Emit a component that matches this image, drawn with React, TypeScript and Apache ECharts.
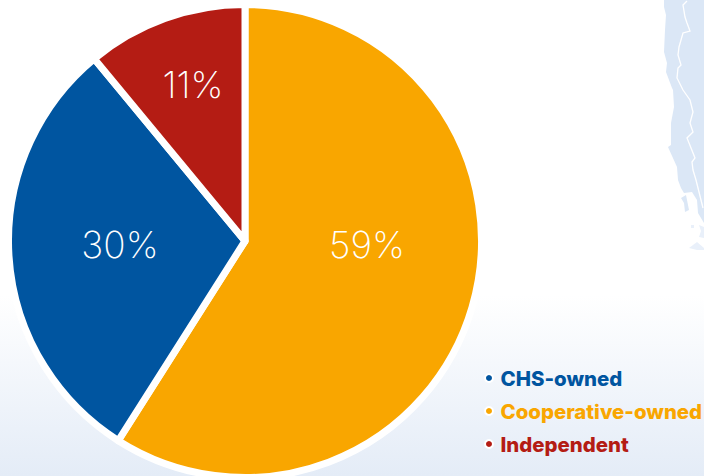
import React, { useEffect, useRef } from "react";
import * as echarts from "echarts";

const categories = ["Cooperative-owned", "CHS-owned", "Independent"];
const shares = [59, 30, 11];
const sliceColors = ["#F9A600", "#0055A0", "#B41C14"];
const legendOrder = ["CHS-owned", "Cooperative-owned", "Independent"];
const labelCenters = [
  [367, 244],
  [120, 244],
  [193, 84],
];

// Decorative coastline in the top-right corner
const landOutline = [
  [664, 0], [664, 7], [666, 15], [665, 30], [664, 52], [667, 63], [666, 72], [672, 88],
  [673, 90], [674, 107], [671, 123], [671, 145], [668, 147], [677, 167], [678, 180],
  [681, 188], [684, 193], [692, 192], [697, 200], [698, 213], [704, 223], [704, 0],
];
const peninsula = [[681, 198], [686, 195], [689, 210], [685, 212], [684, 203]];
const islands = [
  [[689, 248], [697, 242], [704, 248], [704, 250], [697, 250]],
  [[699, 225], [704, 227], [704, 238], [699, 237], [701, 231]],
  [[691, 225], [694, 225], [694, 228], [691, 228]],
];
const borderLine = [
  [687, 1], [683, 5], [685, 17], [687, 23], [690, 31], [683, 33], [679, 47], [678, 55],
  [681, 65], [678, 68], [677, 78], [683, 90], [690, 100], [693, 112], [690, 123],
  [693, 132], [687, 138], [695, 158], [692, 162], [693, 170], [696, 180], [703, 208],
];

export default function App() {
  const ref = useRef<HTMLDivElement>(null);

  useEffect(() => {
    const chart = echarts.init(ref.current!, undefined, { renderer: "svg" });
    chart.setOption({
      animation: false,
      backgroundColor: new echarts.graphic.LinearGradient(0, 0, 0, 1, [
        { offset: 0, color: "#FFFFFF" },
        { offset: 0.62, color: "#FFFFFF" },
        { offset: 1, color: "#E4ECF7" },
      ]),
      legend: {
        orient: "vertical",
        left: 479,
        top: 362,
        itemWidth: 13,
        itemHeight: 8,
        itemGap: 11,
        icon: "circle",
        selectedMode: false,
        data: legendOrder.map((name) => ({
          name,
          textStyle: { color: sliceColors[categories.indexOf(name)] },
        })),
        textStyle: { fontFamily: "Inter", fontWeight: 800, fontSize: 20.4, lineHeight: 22 },
      },
      graphic: [
        {
          type: "polygon",
          silent: true,
          shape: { points: landOutline },
          style: { fill: "#DBE7F6" },
        },
        {
          type: "polygon",
          silent: true,
          shape: { points: peninsula },
          style: { fill: "#DBE7F6" },
        },
        ...islands.map((points) => ({
          type: "polygon",
          silent: true,
          shape: { points },
          style: { fill: "#E9F0FA" },
        })),
        {
          type: "polyline",
          silent: true,
          shape: { points: borderLine },
          style: { stroke: "#FFFFFF", lineWidth: 1.3, fill: "none" },
        },
      ],
      series: [
        {
          type: "pie",
          center: [245, 241],
          radius: [0, 236.5],
          startAngle: 90,
          clockwise: true,
          avoidLabelOverlap: false,
          itemStyle: { borderColor: "#FFFFFF", borderWidth: 7 },
          emphasis: { disabled: true },
          labelLine: { show: false },
          label: {
            show: true,
            position: "inside",
            formatter: "{c}%",
            color: "#FFFFFF",
            fontFamily: "Inter",
            fontWeight: 200,
            fontSize: 37,
          },
          labelLayout: (params: any) => ({
            x: labelCenters[params.dataIndex][0],
            y: labelCenters[params.dataIndex][1],
            align: "center",
            verticalAlign: "middle",
          }),
          data: categories.map((name, i) => ({
            name,
            value: shares[i],
            itemStyle: { color: sliceColors[i] },
          })),
        },
      ],
    });
    return () => chart.dispose();
  }, []);

  return <div ref={ref} style={{ position: "fixed", left: 0, top: 0, width: 704, height: 476 }} />;
}
